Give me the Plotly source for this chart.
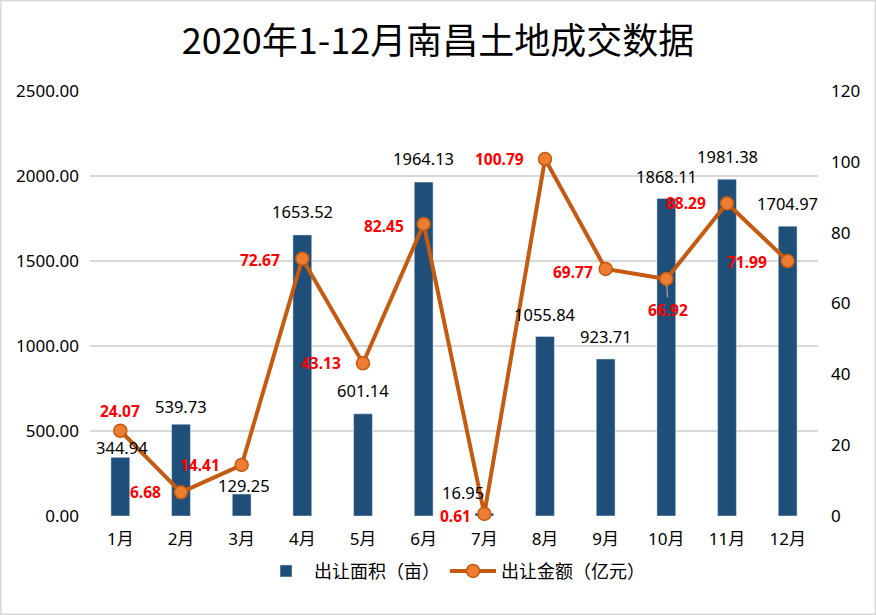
import plotly.graph_objects as go

months = ["1月", "2月", "3月", "4月", "5月", "6月", "7月", "8月", "9月", "10月", "11月", "12月"]
area = [344.94, 539.73, 129.25, 1653.52, 601.14, 1964.13, 16.95, 1055.84, 923.71, 1868.11, 1981.38, 1704.97]
amount = [24.07, 6.68, 14.41, 72.67, 43.13, 82.45, 0.61, 100.79, 69.77, 66.92, 88.29, 71.99]

# label placement offsets in pixels (dx to the right, dy downward) relative to the mark
amount_off = [(0, -20), (-36, 0), (-42, 0), (-42, 1), (-42, 0), (-40, 2),
              (-29, 2), (-46, 0), (-33, 3), (2, 31), (-41, 0), (-41, 1)]
area_off = [(2, 10), (0, 18), (2, 9), (0, 23), (0, 23), (0, 24),
            (-21, 21), (0, 22), (0, 22), (0, 22), (0, 23), (0, 23)]

FONT = "Noto Sans, Noto Sans CJK SC"
BAR = "#1f4e79"
LINE = "#c55a11"

fig = go.Figure()
fig.add_trace(go.Bar(
    x=months, y=area, name="出让面积（亩）", marker_color=BAR, width=0.31,
    yaxis="y",
))
fig.add_trace(go.Scatter(
    x=months, y=amount, name="出让金额（亿元）", yaxis="y2",
    mode="lines+markers",
    line=dict(color=LINE, width=4),
    marker=dict(size=13, color="#ed7d31", line=dict(color=LINE, width=1.5)),
    cliponaxis=False,
))

for m, v, (dx, dy) in zip(months, area, area_off):
    fig.add_annotation(x=m, y=v, xref="x", yref="y", text=f"{v:.2f}", showarrow=False,
                       xanchor="center", yanchor="middle", xshift=dx, yshift=dy,
                       font=dict(size=16.5, color="#000000", family=FONT))

for i, (m, v, (dx, dy)) in enumerate(zip(months, amount, amount_off)):
    if i == 9:
        fig.add_annotation(x=m, y=v, xref="x", yref="y2", text=f"{v:.2f}", showarrow=True,
                           arrowhead=0, arrowwidth=1.2, arrowcolor="#a6a6a6", ax=dx, ay=dy,
                           standoff=6,
                           font=dict(size=15.5, color="#ff0000", family="Noto Sans", weight="bold"))
    else:
        fig.add_annotation(x=m, y=v, xref="x", yref="y2", text=f"{v:.2f}", showarrow=False,
                           xanchor="center", yanchor="middle", xshift=dx, yshift=-dy,
                           font=dict(size=15.5, color="#ff0000", family="Noto Sans", weight="bold"))

fig.update_layout(
    width=876, height=615,
    margin=dict(l=90, r=58, t=91, b=99),
    paper_bgcolor="white", plot_bgcolor="white",
    title=dict(text="2020年1-12月南昌土地成交数据", x=0.5, xanchor="center", y=0.932, yanchor="middle",
               font=dict(size=36, color="#000000", family="Noto Sans CJK SC")),
    font=dict(family=FONT, size=16, color="#000000"),
    xaxis=dict(range=[-0.5, 11.5], showgrid=False, showline=False, ticks="", tickfont=dict(size=17),
               ticklabelstandoff=11, automargin=False),
    yaxis=dict(range=[0, 2500], dtick=500, tickformat=".2f", showgrid=True, gridcolor="#d9d9d9",
               gridwidth=1.5, zeroline=False, showline=False, ticklabelstandoff=10,
               tickfont=dict(size=17), automargin=False),
    yaxis2=dict(range=[0, 120], dtick=20, overlaying="y", side="right", showgrid=False, zeroline=False,
                showline=False, ticklabelstandoff=12, tickfont=dict(size=17), automargin=False),
    legend=dict(orientation="h", x=0.5, xanchor="center", y=-0.13, yanchor="middle",
                font=dict(size=18), itemwidth=46, bgcolor="rgba(0,0,0,0)"),
    shapes=[dict(type="rect", xref="paper", yref="paper", x0=-90/728, x1=1 + 58/728,
                 y0=-99/425, y1=1 + 91/425, line=dict(color="#d9d9d9", width=3), layer="below")],
)

fig.write_html("out.html")
